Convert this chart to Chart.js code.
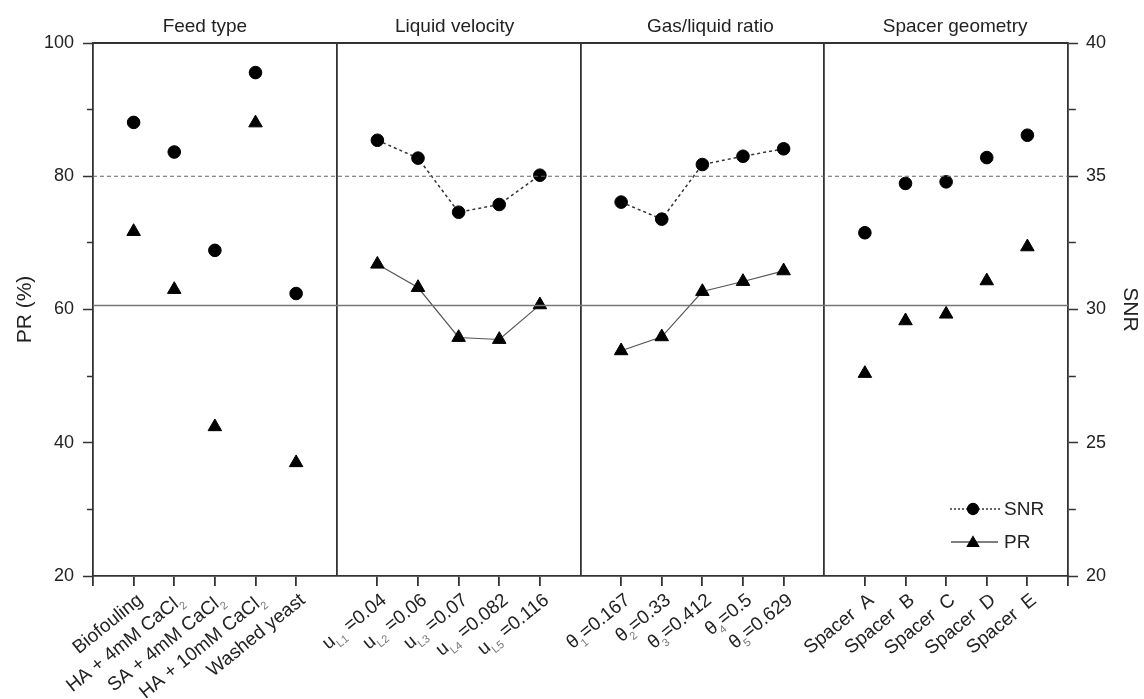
<!DOCTYPE html>
<html>
<head>
<meta charset="utf-8">
<script src="https://cdn.jsdelivr.net/npm/chart.js@4.4.0/dist/chart.umd.min.js"></script>
<style>
  html, body { margin: 0; padding: 0; background: #fff; }
  #wrap { width: 1144px; height: 699px; position: relative; }
</style>
</head>
<body>
<div id="wrap"><canvas id="taguchiChart"></canvas></div>
<script>
const groupTitles = ['Feed type', 'Liquid velocity', 'Gas/liquid ratio', 'Spacer geometry'];

// tick labels, _{..} is drawn as subscript
const feedTypes = ['Biofouling', 'HA + 4mM CaCl_{2}', 'SA + 4mM CaCl_{2}', 'HA + 10mM CaCl_{2}', 'Washed yeast'];
const velocities = ['u_{L1} =0.04', 'u_{L2} =0.06', 'u_{L3} =0.07', 'u_{L4} =0.082', 'u_{L5} =0.116'];
const ratios = ['θ_{1}=0.167', 'θ_{2}=0.33', 'θ_{3}=0.412', 'θ_{4}=0.5', 'θ_{5}=0.629'];
const spacers = ['Spacer  A', 'Spacer  B', 'Spacer  C', 'Spacer  D', 'Spacer  E'];

// PR (%) - left axis
const prFeed = [71.7, 63.0, 42.4, 88.0, 37.0];
const prVelocity = [66.8, 63.3, 55.8, 55.5, 60.7];
const prRatio = [53.8, 55.9, 62.7, 64.2, 65.8];
const prSpacer = [50.4, 58.3, 59.3, 64.3, 69.4];

// SNR - right axis
const snrFeed = [37.02, 35.91, 32.22, 38.89, 30.60];
const snrVelocity = [36.35, 35.68, 33.65, 33.94, 35.04];
const snrRatio = [34.03, 33.39, 35.44, 35.75, 36.03];
const snrSpacer = [32.88, 34.73, 34.79, 35.70, 36.54];

// overall means (horizontal reference lines)
const meanPR = 60.6;
const meanSNR = 35.0;

const groupLabels = [feedTypes, velocities, ratios, spacers];
const prGroups = [prFeed, prVelocity, prRatio, prSpacer];
const snrGroups = [snrFeed, snrVelocity, snrRatio, snrSpacer];
const connected = [false, true, true, false];
const dividerSlots = [6, 12, 18];
// the panel titles are not exactly centred in the original
const titleShift = [-10, -4, 8, 9];

const FONT = '"Liberation Sans", Arial, sans-serif';
Chart.defaults.font.family = FONT;
Chart.defaults.color = '#222';

const slot = (g, i) => g * 6 + i + 1;
const toPoints = (values, g) => values.map((v, i) => ({ x: slot(g, i), y: v }));

const datasets = [
  {
    label: 'mean SNR',
    data: [{ x: 0, y: meanSNR }, { x: 24, y: meanSNR }],
    yAxisID: 'ySnr',
    showLine: true,
    borderColor: '#666',
    borderWidth: 1.2,
    borderDash: [4, 3],
    pointRadius: 0,
  },
  {
    label: 'mean PR',
    data: [{ x: 0, y: meanPR }, { x: 24, y: meanPR }],
    yAxisID: 'yPr',
    showLine: true,
    borderColor: '#777',
    borderWidth: 1.3,
    pointRadius: 0,
  },
];

snrGroups.forEach((vals, g) => {
  datasets.push({
    label: 'SNR',
    data: toPoints(vals, g),
    yAxisID: 'ySnr',
    showLine: connected[g],
    borderColor: '#333',
    borderWidth: 1.5,
    borderDash: [3, 3],
    pointStyle: 'circle',
    pointRadius: 6.3,
    pointBackgroundColor: '#000',
    pointBorderColor: '#000',
    pointBorderWidth: 1,
  });
});

prGroups.forEach((vals, g) => {
  datasets.push({
    label: 'PR',
    data: toPoints(vals, g),
    yAxisID: 'yPr',
    showLine: connected[g],
    borderColor: '#555',
    borderWidth: 1.2,
    pointStyle: 'triangle',
    pointRadius: 7.8,
    pointBackgroundColor: '#000',
    pointBorderColor: '#000',
    pointBorderWidth: 1,
  });
});

// draws text with _{..} parts as subscripts, right aligned to (0,0)
function drawSubText(ctx, text, size) {
  const parts = [];
  const re = /_\{([^}]*)\}/g;
  let last = 0;
  let m;
  while ((m = re.exec(text))) {
    if (m.index > last) parts.push({ s: text.slice(last, m.index), sub: false });
    parts.push({ s: m[1], sub: true });
    last = re.lastIndex;
  }
  if (last < text.length) parts.push({ s: text.slice(last), sub: false });

  const fontFor = (p) => (p.sub ? Math.round(size * 0.6) + 'px ' + FONT : size + 'px ' + FONT);
  let total = 0;
  parts.forEach((p) => {
    ctx.font = fontFor(p);
    p.w = ctx.measureText(p.s).width;
    total += p.w;
  });
  let x = -total;
  ctx.textAlign = 'left';
  ctx.textBaseline = 'alphabetic';
  parts.forEach((p) => {
    ctx.font = fontFor(p);
    ctx.fillStyle = p.sub ? '#777' : '#222';
    ctx.fillText(p.s, x, p.sub ? size * 0.3 : 0);
    x += p.w;
  });
}

const panelDecor = {
  id: 'panelDecor',
  afterDraw(chart) {
    const { ctx, chartArea } = chart;
    const xs = chart.scales.x;
    ctx.save();

    // top frame
    ctx.strokeStyle = '#333';
    ctx.lineWidth = 1.8;
    ctx.beginPath();
    ctx.moveTo(chartArea.left, chartArea.top);
    ctx.lineTo(chartArea.right, chartArea.top);
    ctx.stroke();

    // panel titles
    ctx.fillStyle = '#222';
    ctx.font = '19px ' + FONT;
    ctx.textAlign = 'center';
    ctx.textBaseline = 'alphabetic';
    groupTitles.forEach((t, g) => {
      ctx.fillText(t, xs.getPixelForValue(g * 6 + 3) + titleShift[g], chartArea.top - 11);
    });

    // rotated category labels
    groupLabels.forEach((labels, g) => {
      labels.forEach((lab, i) => {
        const px = xs.getPixelForValue(slot(g, i));
        ctx.save();
        ctx.translate(px + 10, chartArea.bottom + 26);
        ctx.rotate((-39 * Math.PI) / 180);
        drawSubText(ctx, lab, 19);
        ctx.restore();
      });
    });

    // legend
    const lx = chartArea.right - 118;
    const ly1 = chartArea.bottom - 67;
    const ly2 = chartArea.bottom - 34;
    ctx.lineWidth = 1.3;
    ctx.strokeStyle = '#333';
    ctx.setLineDash([2, 2]);
    ctx.beginPath();
    ctx.moveTo(lx, ly1);
    ctx.lineTo(lx + 50, ly1);
    ctx.stroke();
    ctx.setLineDash([]);
    ctx.strokeStyle = '#555';
    ctx.beginPath();
    ctx.moveTo(lx + 1, ly2);
    ctx.lineTo(lx + 48, ly2);
    ctx.stroke();
    ctx.fillStyle = '#000';
    ctx.strokeStyle = '#000';
    Chart.helpers.drawPoint(ctx, { pointStyle: 'circle', radius: 5.5, borderWidth: 1, rotation: 0 }, lx + 23, ly1);
    Chart.helpers.drawPoint(ctx, { pointStyle: 'triangle', radius: 6.5, borderWidth: 1, rotation: 0 }, lx + 23, ly2 + 1);
    ctx.fillStyle = '#222';
    ctx.font = '19px ' + FONT;
    ctx.textAlign = 'left';
    ctx.textBaseline = 'middle';
    ctx.fillText('SNR', lx + 54, ly1 + 1);
    ctx.fillText('PR', lx + 54, ly2 + 1);

    ctx.restore();
  },
};

// minor ticks are shorter: dash away the outer part of the tick line
const isMinorPr = (c) => c.tick && c.tick.value % 20 !== 0;
const isMinorSnr = (c) => c.tick && c.tick.value % 5 !== 0;

const config = {
  type: 'scatter',
  data: { datasets: datasets },
  options: {
    responsive: true,
    maintainAspectRatio: false,
    animation: false,
    events: [],
    layout: { padding: { top: 43, left: 0, right: 0, bottom: 0 } },
    plugins: {
      legend: { display: false },
      tooltip: { enabled: false },
    },
    scales: {
      x: {
        type: 'linear',
        min: 0,
        max: 24,
        ticks: { stepSize: 1, autoSkip: false, maxRotation: 0, callback: () => '' },
        grid: {
          drawOnChartArea: true,
          color: (c) => (c.tick && dividerSlots.includes(c.tick.value) ? '#333' : 'rgba(0,0,0,0)'),
          lineWidth: 1.8,
          tickLength: 10,
          tickWidth: 1.8,
          tickColor: (c) => (c.tick && dividerSlots.includes(c.tick.value) ? 'rgba(0,0,0,0)' : '#333'),
        },
        border: { color: '#333', width: 1.8 },
        afterFit: (s) => { s.height = 123; },
      },
      yPr: {
        position: 'left',
        min: 20,
        max: 100,
        ticks: {
          stepSize: 10,
          padding: 9,
          font: { size: 18 },
          color: '#222',
          callback: (v) => (v % 20 === 0 ? v : ''),
        },
        grid: {
          drawOnChartArea: false,
          tickLength: 10,
          tickWidth: 1.5,
          tickColor: '#333',
          tickBorderDash: (c) => (isMinorPr(c) ? [0, 4, 7, 100] : []),
        },
        border: { color: '#333', width: 1.8 },
        title: { display: true, text: 'PR (%)', font: { size: 21 }, color: '#222', padding: { top: 13, bottom: 0 } },
        afterFit: (s) => { s.width = 93; },
      },
      ySnr: {
        position: 'right',
        min: 20,
        max: 40,
        ticks: {
          stepSize: 2.5,
          padding: 8,
          font: { size: 18 },
          color: '#222',
          callback: (v) => (v % 5 === 0 ? v : ''),
        },
        grid: {
          drawOnChartArea: false,
          tickLength: 10,
          tickWidth: 1.5,
          tickColor: '#333',
          tickBorderDash: (c) => (isMinorSnr(c) ? [7, 100] : []),
        },
        border: { color: '#333', width: 1.8 },
        title: { display: true, text: 'SNR', font: { size: 21 }, color: '#222', padding: { top: 2, bottom: 0 } },
        afterFit: (s) => { s.width = 76; },
      },
    },
  },
  plugins: [panelDecor],
};

new Chart(document.getElementById('taguchiChart'), config);
</script>
</body>
</html>
